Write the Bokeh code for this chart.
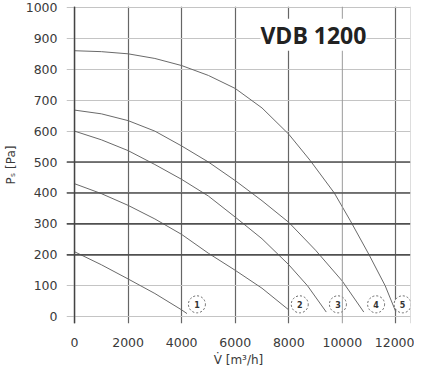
from bokeh.plotting import figure
from bokeh.models import Span, Label, FixedTicker, Range1d, ColumnDataSource
from bokeh.embed import file_html
from bokeh.resources import INLINE
from bokeh.core.properties import value

# ---- data ----
q_ticks = [0, 2000, 4000, 6000, 8000, 10000, 12000]
p_ticks = [0, 100, 200, 300, 400, 500, 600, 700, 800, 900, 1000]
p_dark = [200, 300, 400, 500]
q_light = [10000]

q1 = [0, 1000, 2000, 3000, 4000, 4200]
p1 = [210, 168, 122, 75, 22, 10]
q2 = [0, 1000, 2000, 3000, 4000, 5000, 6000, 7000, 8000]
p2 = [430, 398, 360, 316, 266, 205, 150, 92, 22]
q3 = [0, 1000, 2000, 3000, 4000, 5000, 6000, 7000, 8000, 8700, 9400]
p3 = [600, 572, 537, 492, 444, 390, 322, 252, 168, 100, 15]
q4 = [0, 1000, 2000, 3000, 4000, 5000, 6000, 7000, 8000, 9000, 10000, 10800]
p4 = [668, 656, 634, 600, 552, 500, 440, 375, 305, 215, 115, 15]
q5 = [0, 1000, 2000, 3000, 4000, 5000, 6000, 7000, 8000, 8800, 9700, 10300, 11000, 11600, 12000]
p5 = [860, 857, 850, 835, 812, 780, 738, 675, 590, 505, 400, 310, 200, 100, 15]

label_q = [4570, 8410, 9835, 11260, 12250]
label_p = [40, 40, 40, 40, 40]
label_text = ["1", "2", "3", "4", "5"]

title_text = "VDB 1200"
x_title = "V\u0307 [m\u00b3/h]"
y_title = "P\u209b [Pa]"

# ---- figure ----
p = figure(width=414, height=369,
           x_range=Range1d(-300, 12545), y_range=Range1d(-22, 1003),
           output_backend="svg", toolbar_location=None,
           min_border_left=57, min_border_right=4,
           min_border_top=6, min_border_bottom=35)
p.outline_line_color = None
p.background_fill_color = "white"

p.xgrid.ticker = FixedTicker(ticks=[t for t in q_ticks if t not in q_light])
p.xgrid.grid_line_color = "#666666"
p.xgrid.grid_line_width = 1.2
p.ygrid.ticker = FixedTicker(ticks=p_ticks)
p.ygrid.grid_line_color = "#c4c4c4"
p.ygrid.grid_line_width = 1

for t in q_light:
    p.add_layout(Span(location=t, dimension="height", line_color="#9a9a9a", line_width=1))
for t in p_dark:
    p.add_layout(Span(location=t, dimension="width", line_color="#505050", line_width=1.6))
p.add_layout(Span(location=12545, dimension="height", line_color="#bbbbbb", line_width=1))
p.add_layout(Span(location=0, dimension="height", line_color="#444444", line_width=1.4))

for q, pr in [(q1, p1), (q2, p2), (q3, p3), (q4, p4), (q5, p5)]:
    p.line(q, pr, line_color="#6a6a6a", line_width=1)

src = ColumnDataSource(dict(q=label_q, p=label_p, t=label_text))
p.scatter("q", "p", source=src, marker="circle", size=17, fill_color="white",
          line_color="#666666", line_dash="2 2", line_width=1)
p.text("q", "p", text="t", source=src, text_font=value("DejaVu Sans"),
       text_font_size="8px", text_font_style="bold", text_align="center",
       text_baseline="middle", text_color="#333333")

p.add_layout(Label(x=8920, y=912, text=title_text, text_font="Open Sans",
                   text_font_style="bold", text_font_size="23px",
                   text_align="center", text_baseline="middle",
                   text_color="#222222", background_fill_color="white"))

for ax, ticks in [(p.xaxis, q_ticks), (p.yaxis, p_ticks)]:
    ax.ticker = FixedTicker(ticks=ticks)
    ax.axis_line_color = None
    ax.major_tick_line_color = None
    ax.minor_tick_line_color = None
    ax.major_label_text_font = "DejaVu Sans"
    ax.major_label_text_font_size = "12.5px"
    ax.major_label_text_color = "#3a3a3a"
    ax.axis_label_text_font = "DejaVu Sans"
    ax.axis_label_text_font_style = "normal"
    ax.axis_label_text_font_size = "12px"
    ax.axis_label_text_color = "#3a3a3a"

p.xaxis.axis_label = x_title
p.yaxis.axis_label = y_title
p.xaxis.major_label_standoff = 8
p.xaxis.axis_label_standoff = 3
p.yaxis.major_label_standoff = 3
p.yaxis.axis_label_standoff = 5

open("out.html", "w").write(file_html(p, INLINE))
